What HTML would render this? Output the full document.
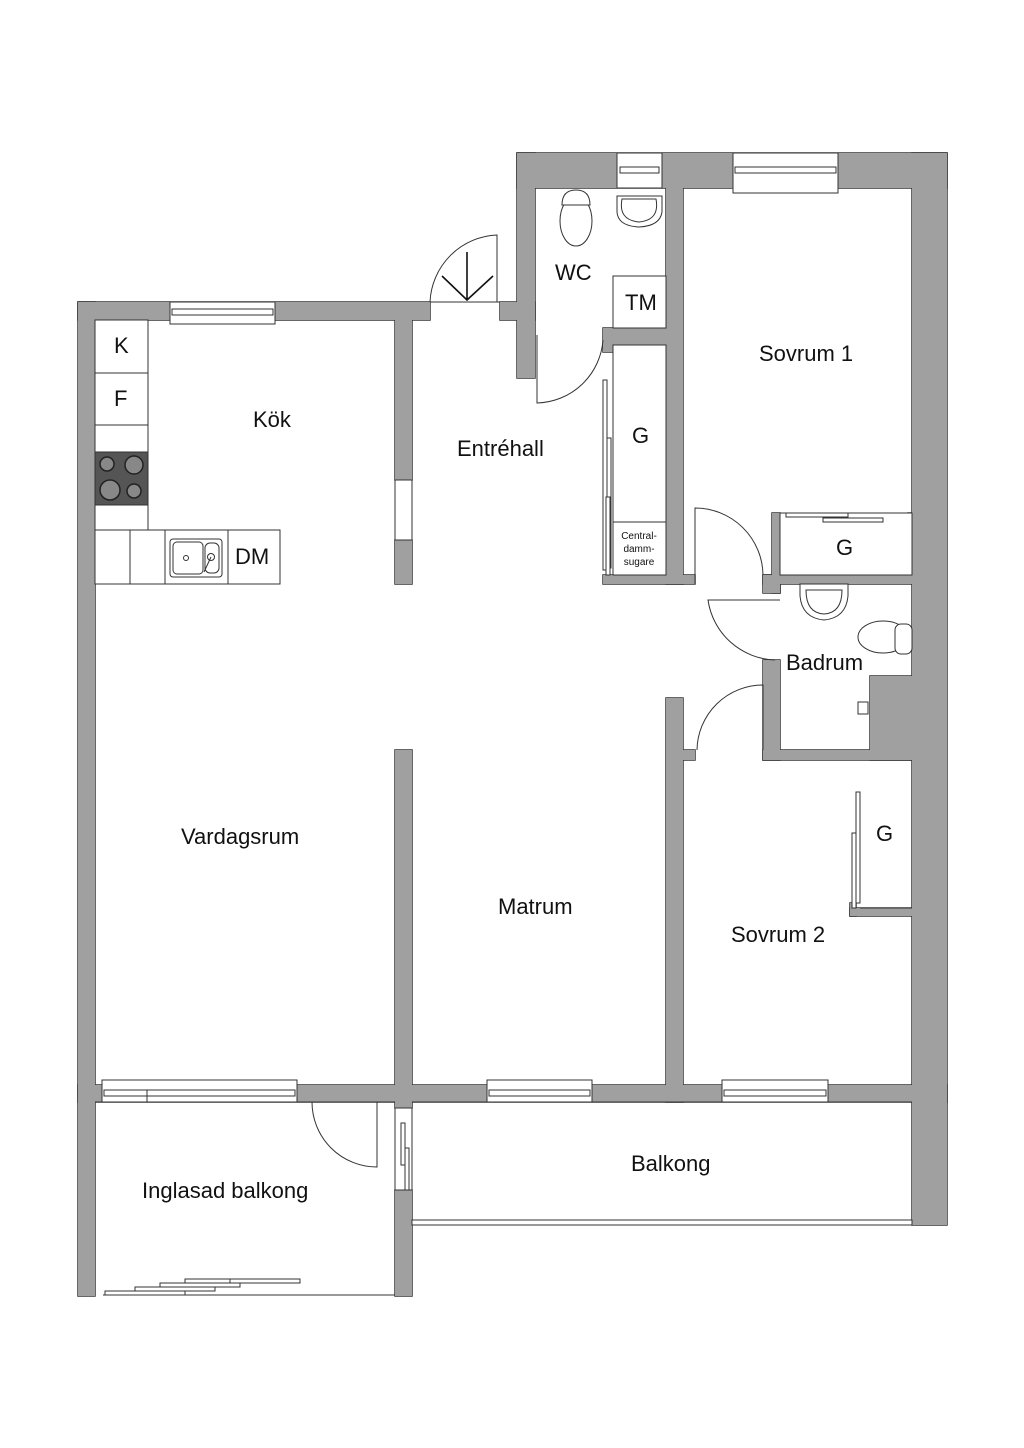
<!DOCTYPE html>
<html><head><meta charset="utf-8"><style>
html,body{margin:0;padding:0;background:#fff;}
svg{display:block;}
text{font-family:"Liberation Sans",sans-serif;fill:#111;}
</style></head><body>
<svg width="1024" height="1448" viewBox="0 0 1024 1448" xmlns="http://www.w3.org/2000/svg">
<defs>
<g id="walls">
  <rect x="78" y="302" width="352" height="18"/>
  <rect x="78" y="302" width="17" height="994"/>
  <rect x="395" y="320" width="17" height="160"/>
  <rect x="395" y="540" width="17" height="44"/>
  <rect x="500" y="302" width="35" height="18"/>
  <rect x="517" y="153" width="18" height="225"/>
  <rect x="517" y="153" width="430" height="35"/>
  <rect x="912" y="153" width="35" height="1072"/>
  <rect x="666" y="188" width="17" height="396"/>
  <rect x="603" y="328" width="63" height="17"/>
  <rect x="603" y="345" width="10" height="7"/>
  <rect x="603" y="575" width="92" height="9"/>
  <rect x="772" y="513" width="8" height="80"/>
  <rect x="763" y="575" width="149" height="9"/>
  <rect x="763" y="575" width="17" height="18"/>
  <rect x="763" y="660" width="17" height="100"/>
  <rect x="763" y="750" width="149" height="10"/>
  <rect x="870" y="676" width="42" height="84"/>
  <rect x="908" y="513" width="4" height="10"/>
  <rect x="666" y="698" width="17" height="404"/>
  <rect x="683" y="750" width="12" height="10"/>
  <rect x="850" y="908" width="62" height="8"/>
  <rect x="850" y="903" width="6" height="13"/>
  <rect x="395" y="750" width="17" height="352"/>
  <rect x="78" y="1085" width="869" height="17"/>
  <rect x="395" y="1190" width="17" height="106"/>
  <rect x="395" y="1102" width="17" height="6"/>
</g>
</defs>
<g fill="#a0a0a0" stroke="#333" stroke-width="1.5"><use href="#walls"/></g>
<g fill="#a0a0a0" stroke="none"><use href="#walls"/></g>

<g fill="#fff" stroke="#333" stroke-width="1">
  <rect x="170" y="302" width="105" height="22"/>
  <rect x="172" y="309" width="101" height="6"/>
  <rect x="617" y="153" width="45" height="35"/>
  <rect x="620" y="167" width="39" height="6"/>
  <rect x="733" y="153" width="105" height="40"/>
  <rect x="735" y="167" width="101" height="6"/>
  <rect x="102" y="1080" width="195" height="22"/>
  <rect x="104" y="1090" width="191" height="6"/>
  <line x1="147" y1="1090" x2="147" y2="1102"/>
  <rect x="487" y="1080" width="105" height="22"/>
  <rect x="489" y="1090" width="101" height="6"/>
  <rect x="722" y="1080" width="106" height="22"/>
  <rect x="724" y="1090" width="102" height="6"/>
  <rect x="395" y="480" width="17" height="60"/>
  <rect x="395" y="1108" width="17" height="82"/>
  <rect x="401" y="1123" width="4" height="42"/>
  <rect x="405" y="1148" width="4" height="42"/>
  <rect x="412" y="1220" width="500" height="5"/>
  <line x1="95" y1="1102" x2="395" y2="1102"/>
  <line x1="412" y1="1102" x2="912" y2="1102"/>
  <line x1="103" y1="1295" x2="395" y2="1295"/>
  <rect x="105" y="1291" width="80" height="4"/>
  <rect x="135" y="1287" width="80" height="4"/>
  <rect x="160" y="1283" width="80" height="4"/>
  <rect x="185" y="1279" width="60" height="4"/>
  <rect x="230" y="1279" width="70" height="4"/>
  <rect x="95" y="320" width="53" height="53"/>
  <rect x="95" y="373" width="53" height="52"/>
  <rect x="95" y="425" width="53" height="105"/>
  <rect x="95" y="530" width="185" height="54"/>
  <line x1="130" y1="530" x2="130" y2="584"/>
  <line x1="165" y1="530" x2="165" y2="584"/>
  <line x1="228" y1="530" x2="228" y2="584"/>
  <rect x="613" y="276" width="53" height="52"/>
  <rect x="613" y="345" width="53" height="230"/>
  <rect x="613" y="522" width="53" height="53"/>
  <rect x="603" y="380" width="4" height="190"/>
  <rect x="607" y="438" width="4" height="130"/>
  <rect x="606" y="497" width="4" height="78"/>
  <rect x="780" y="513" width="132" height="62"/>
  <rect x="786" y="513" width="62" height="4"/>
  <rect x="823" y="518" width="60" height="4"/>
  <rect x="856" y="792" width="4" height="111"/>
  <rect x="852" y="833" width="4" height="75"/>
  <line x1="860" y1="908" x2="912" y2="908"/>
</g>

<rect x="95" y="452" width="53" height="53" fill="#555" stroke="#333"/>
<g fill="#888" stroke="#222" stroke-width="1.5">
  <circle cx="107" cy="464" r="7"/><circle cx="134" cy="465" r="9"/>
  <circle cx="110" cy="490" r="10"/><circle cx="134" cy="491" r="7"/>
</g>
<g fill="#fff" stroke="#333" stroke-width="1">
  <rect x="170" y="539" width="52" height="38" rx="3"/>
  <rect x="173" y="542" width="30" height="32" rx="4"/>
  <rect x="205" y="543" width="14" height="30" rx="5"/>
  <circle cx="186" cy="558" r="2.5"/>
  <circle cx="211" cy="557" r="3.5"/>
  <line x1="211" y1="557" x2="204" y2="572"/>
</g>
<g fill="#fff" stroke="#333" stroke-width="1">
  <ellipse cx="576" cy="221" rx="16" ry="25"/>
  <path d="M562 205 Q562 190 576 190 Q590 190 590 205 Z"/>
  <path d="M617 196 L662 196 L662 212 Q660 226 639 227 Q618 226 617 212 Z"/>
  <path d="M622 199 L656 199 Q660 220 639 222 Q618 220 622 199Z"/>
  <path d="M800 584 L848 584 L848 596 Q846 618 824 620 Q802 618 800 596 Z"/>
  <path d="M806 590 L842 590 Q842 613 824 614 Q806 613 806 590Z"/>
  <ellipse cx="883" cy="637" rx="25" ry="16"/>
  <rect x="895" y="624" width="17" height="30" rx="6"/>
  <rect x="858" y="702" width="10" height="12"/>
</g>
<g fill="none" stroke="#333" stroke-width="1">
  <path d="M430 302 A70 70 0 0 1 497 235 L497 302"/>
  <line x1="430" y1="302" x2="500" y2="302"/>
</g>
<g fill="none" stroke="#111" stroke-width="1.6">
  <path d="M442 276 L467 300 L493 276 M467 300 L467 252"/>
</g>
<g fill="none" stroke="#333" stroke-width="1">
  <path d="M537 335 L537 403 A68 68 0 0 0 603 340"/>
  <path d="M695 584 L695 508 A68 68 0 0 1 763 575"/>
  <path d="M780 600 L708 600 A70 70 0 0 0 775 660"/>
  <path d="M763 750 L763 685 A66 66 0 0 0 697 750"/>
  <path d="M312 1102 A65 65 0 0 0 377 1167 L377 1102"/>
</g>

<g font-size="22">
  <text x="253" y="427">Kök</text>
  <text x="457" y="456">Entréhall</text>
  <text x="555" y="280">WC</text>
  <text x="625" y="310">TM</text>
  <text x="632" y="443">G</text>
  <text x="759" y="361">Sovrum 1</text>
  <text x="836" y="555">G</text>
  <text x="786" y="670">Badrum</text>
  <text x="876" y="841">G</text>
  <text x="181" y="844">Vardagsrum</text>
  <text x="498" y="914">Matrum</text>
  <text x="731" y="942">Sovrum 2</text>
  <text x="631" y="1171">Balkong</text>
  <text x="142" y="1198">Inglasad balkong</text>
  <text x="114" y="353">K</text>
  <text x="114" y="406">F</text>
  <text x="235" y="564">DM</text>
</g>
<g font-size="10" text-anchor="middle">
  <text x="639" y="539">Central-</text>
  <text x="639" y="552">damm-</text>
  <text x="639" y="565">sugare</text>
</g>
</svg>
</body></html>
